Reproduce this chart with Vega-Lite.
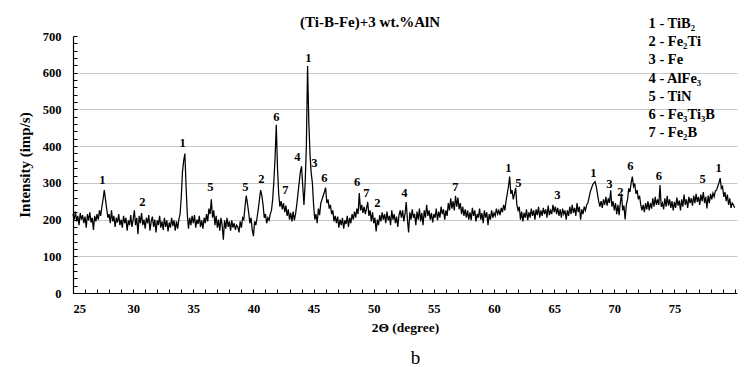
{
"$schema":"https://vega.github.io/schema/vega-lite/v6.json",
"width":664,"height":257,
"autosize":{"type":"none"},
"padding":{"left":73,"top":36,"right":10,"bottom":74},
"background":"white",
"title":{"text":"(Ti-B-Fe)+3 wt.%AlN","anchor":"middle","frame":"group","dx":-35,"dy":17,"offset":4,"font":"Liberation Serif","fontSize":15,"fontWeight":"bold","color":"black"},
"config":{"view":{"stroke":null},"font":"Liberation Serif",
"axis":{"labelFont":"Liberation Serif","titleFont":"Liberation Serif","labelFontWeight":"bold","titleFontWeight":"bold","labelColor":"black","titleColor":"black","domainColor":"black","tickColor":"black"}},
"datasets":{
"xrd":[
{"t":25.0,"i":215},{"t":25.1,"i":200},{"t":25.2,"i":222},{"t":25.3,"i":195},{"t":25.4,"i":210},{"t":25.5,"i":185},{"t":25.6,"i":218},{"t":25.7,"i":200},{"t":25.8,"i":212},{"t":25.9,"i":190},
{"t":26.0,"i":208},{"t":26.1,"i":178},{"t":26.2,"i":215},{"t":26.3,"i":198},{"t":26.4,"i":220},{"t":26.5,"i":192},{"t":26.6,"i":205},{"t":26.7,"i":172},{"t":26.8,"i":210},{"t":26.9,"i":195},
{"t":27.0,"i":215},{"t":27.1,"i":200},{"t":27.2,"i":225},{"t":27.3,"i":210},{"t":27.4,"i":235},{"t":27.5,"i":255},{"t":27.6,"i":280},{"t":27.7,"i":255},{"t":27.8,"i":230},{"t":27.9,"i":205},
{"t":28.0,"i":215},{"t":28.1,"i":190},{"t":28.2,"i":225},{"t":28.3,"i":195},{"t":28.4,"i":210},{"t":28.5,"i":180},{"t":28.6,"i":205},{"t":28.7,"i":192},{"t":28.8,"i":215},{"t":28.9,"i":185},
{"t":29.0,"i":200},{"t":29.1,"i":178},{"t":29.2,"i":210},{"t":29.3,"i":190},{"t":29.4,"i":205},{"t":29.5,"i":170},{"t":29.6,"i":198},{"t":29.7,"i":185},{"t":29.8,"i":212},{"t":29.9,"i":180},
{"t":30.0,"i":200},{"t":30.1,"i":225},{"t":30.2,"i":185},{"t":30.3,"i":205},{"t":30.4,"i":160},{"t":30.5,"i":210},{"t":30.6,"i":190},{"t":30.7,"i":218},{"t":30.8,"i":185},{"t":30.9,"i":200},
{"t":31.0,"i":175},{"t":31.1,"i":205},{"t":31.2,"i":190},{"t":31.3,"i":212},{"t":31.4,"i":170},{"t":31.5,"i":195},{"t":31.6,"i":208},{"t":31.7,"i":180},{"t":31.8,"i":200},{"t":31.9,"i":165},
{"t":32.0,"i":198},{"t":32.1,"i":185},{"t":32.2,"i":210},{"t":32.3,"i":178},{"t":32.4,"i":195},{"t":32.5,"i":172},{"t":32.6,"i":205},{"t":32.7,"i":180},{"t":32.8,"i":198},{"t":32.9,"i":168},
{"t":33.0,"i":192},{"t":33.1,"i":178},{"t":33.2,"i":205},{"t":33.3,"i":182},{"t":33.4,"i":198},{"t":33.5,"i":170},{"t":33.6,"i":195},{"t":33.7,"i":175},{"t":33.8,"i":200},{"t":33.9,"i":215},
{"t":34.0,"i":260},{"t":34.1,"i":330},{"t":34.2,"i":360},{"t":34.3,"i":380},{"t":34.4,"i":290},{"t":34.5,"i":215},{"t":34.6,"i":175},{"t":34.7,"i":205},{"t":34.8,"i":185},{"t":34.9,"i":210},
{"t":35.0,"i":190},{"t":35.1,"i":212},{"t":35.2,"i":178},{"t":35.3,"i":200},{"t":35.4,"i":188},{"t":35.5,"i":210},{"t":35.6,"i":180},{"t":35.7,"i":198},{"t":35.8,"i":175},{"t":35.9,"i":205},
{"t":36.0,"i":190},{"t":36.1,"i":215},{"t":36.2,"i":195},{"t":36.3,"i":230},{"t":36.4,"i":215},{"t":36.5,"i":255},{"t":36.6,"i":205},{"t":36.7,"i":225},{"t":36.8,"i":185},{"t":36.9,"i":210},
{"t":37.0,"i":178},{"t":37.1,"i":200},{"t":37.2,"i":170},{"t":37.3,"i":205},{"t":37.4,"i":185},{"t":37.5,"i":145},{"t":37.6,"i":198},{"t":37.7,"i":175},{"t":37.8,"i":205},{"t":37.9,"i":180},
{"t":38.0,"i":195},{"t":38.1,"i":170},{"t":38.2,"i":198},{"t":38.3,"i":178},{"t":38.4,"i":190},{"t":38.5,"i":172},{"t":38.6,"i":185},{"t":38.7,"i":180},{"t":38.8,"i":165},{"t":38.9,"i":195},
{"t":39.0,"i":178},{"t":39.1,"i":205},{"t":39.2,"i":200},{"t":39.3,"i":235},{"t":39.4,"i":265},{"t":39.5,"i":245},{"t":39.6,"i":220},{"t":39.7,"i":190},{"t":39.8,"i":205},{"t":39.9,"i":172},
{"t":40.0,"i":155},{"t":40.1,"i":195},{"t":40.2,"i":185},{"t":40.3,"i":205},{"t":40.4,"i":228},{"t":40.5,"i":255},{"t":40.6,"i":280},{"t":40.7,"i":265},{"t":40.8,"i":240},{"t":40.9,"i":205},
{"t":41.0,"i":215},{"t":41.1,"i":190},{"t":41.2,"i":205},{"t":41.3,"i":198},{"t":41.4,"i":215},{"t":41.5,"i":225},{"t":41.6,"i":255},{"t":41.7,"i":305},{"t":41.8,"i":370},{"t":41.9,"i":458},
{"t":42.0,"i":340},{"t":42.1,"i":270},{"t":42.2,"i":235},{"t":42.3,"i":250},{"t":42.4,"i":228},{"t":42.5,"i":245},{"t":42.6,"i":220},{"t":42.7,"i":238},{"t":42.8,"i":210},{"t":42.9,"i":228},
{"t":43.0,"i":200},{"t":43.1,"i":218},{"t":43.2,"i":195},{"t":43.3,"i":222},{"t":43.4,"i":198},{"t":43.5,"i":215},{"t":43.6,"i":240},{"t":43.7,"i":270},{"t":43.8,"i":300},{"t":43.9,"i":330},
{"t":44.0,"i":345},{"t":44.1,"i":290},{"t":44.2,"i":240},{"t":44.3,"i":300},{"t":44.4,"i":400},{"t":44.5,"i":618},{"t":44.6,"i":470},{"t":44.7,"i":380},{"t":44.8,"i":328},{"t":44.9,"i":300},
{"t":45.0,"i":240},{"t":45.1,"i":200},{"t":45.2,"i":215},{"t":45.3,"i":190},{"t":45.4,"i":230},{"t":45.5,"i":212},{"t":45.6,"i":245},{"t":45.7,"i":255},{"t":45.8,"i":265},{"t":45.9,"i":275},
{"t":46.0,"i":287},{"t":46.1,"i":245},{"t":46.2,"i":255},{"t":46.3,"i":230},{"t":46.4,"i":240},{"t":46.5,"i":215},{"t":46.6,"i":225},{"t":46.7,"i":195},{"t":46.8,"i":210},{"t":46.9,"i":190},
{"t":47.0,"i":208},{"t":47.1,"i":178},{"t":47.2,"i":200},{"t":47.3,"i":185},{"t":47.4,"i":205},{"t":47.5,"i":175},{"t":47.6,"i":198},{"t":47.7,"i":188},{"t":47.8,"i":210},{"t":47.9,"i":180},
{"t":48.0,"i":205},{"t":48.1,"i":190},{"t":48.2,"i":215},{"t":48.3,"i":200},{"t":48.4,"i":222},{"t":48.5,"i":205},{"t":48.6,"i":230},{"t":48.7,"i":215},{"t":48.8,"i":272},{"t":48.9,"i":225},
{"t":49.0,"i":240},{"t":49.1,"i":218},{"t":49.2,"i":235},{"t":49.3,"i":215},{"t":49.4,"i":230},{"t":49.5,"i":248},{"t":49.6,"i":210},{"t":49.7,"i":225},{"t":49.8,"i":195},{"t":49.9,"i":220},
{"t":50.0,"i":190},{"t":50.1,"i":205},{"t":50.2,"i":168},{"t":50.3,"i":200},{"t":50.4,"i":185},{"t":50.5,"i":212},{"t":50.6,"i":195},{"t":50.7,"i":220},{"t":50.8,"i":200},{"t":50.9,"i":215},
{"t":51.0,"i":190},{"t":51.1,"i":222},{"t":51.2,"i":198},{"t":51.3,"i":210},{"t":51.4,"i":185},{"t":51.5,"i":225},{"t":51.6,"i":200},{"t":51.7,"i":215},{"t":51.8,"i":190},{"t":51.9,"i":208},
{"t":52.0,"i":180},{"t":52.1,"i":212},{"t":52.2,"i":225},{"t":52.3,"i":205},{"t":52.4,"i":225},{"t":52.5,"i":195},{"t":52.6,"i":215},{"t":52.7,"i":248},{"t":52.8,"i":200},{"t":52.9,"i":165},
{"t":53.0,"i":220},{"t":53.1,"i":200},{"t":53.2,"i":228},{"t":53.3,"i":205},{"t":53.4,"i":215},{"t":53.5,"i":185},{"t":53.6,"i":222},{"t":53.7,"i":200},{"t":53.8,"i":230},{"t":53.9,"i":195},
{"t":54.0,"i":218},{"t":54.1,"i":185},{"t":54.2,"i":225},{"t":54.3,"i":205},{"t":54.4,"i":240},{"t":54.5,"i":210},{"t":54.6,"i":225},{"t":54.7,"i":200},{"t":54.8,"i":218},{"t":54.9,"i":192},
{"t":55.0,"i":215},{"t":55.1,"i":205},{"t":55.2,"i":230},{"t":55.3,"i":198},{"t":55.4,"i":222},{"t":55.5,"i":205},{"t":55.6,"i":235},{"t":55.7,"i":215},{"t":55.8,"i":228},{"t":55.9,"i":200},
{"t":56.0,"i":225},{"t":56.1,"i":210},{"t":56.2,"i":245},{"t":56.3,"i":225},{"t":56.4,"i":258},{"t":56.5,"i":230},{"t":56.6,"i":250},{"t":56.7,"i":225},{"t":56.8,"i":265},{"t":56.9,"i":235},
{"t":57.0,"i":260},{"t":57.1,"i":228},{"t":57.2,"i":245},{"t":57.3,"i":215},{"t":57.4,"i":235},{"t":57.5,"i":210},{"t":57.6,"i":228},{"t":57.7,"i":205},{"t":57.8,"i":225},{"t":57.9,"i":200},
{"t":58.0,"i":220},{"t":58.1,"i":198},{"t":58.2,"i":232},{"t":58.3,"i":210},{"t":58.4,"i":225},{"t":58.5,"i":195},{"t":58.6,"i":215},{"t":58.7,"i":205},{"t":58.8,"i":230},{"t":58.9,"i":200},
{"t":59.0,"i":218},{"t":59.1,"i":190},{"t":59.2,"i":225},{"t":59.3,"i":205},{"t":59.4,"i":220},{"t":59.5,"i":185},{"t":59.6,"i":215},{"t":59.7,"i":200},{"t":59.8,"i":225},{"t":59.9,"i":205},
{"t":60.0,"i":218},{"t":60.1,"i":210},{"t":60.2,"i":230},{"t":60.3,"i":215},{"t":60.4,"i":225},{"t":60.5,"i":212},{"t":60.6,"i":232},{"t":60.7,"i":220},{"t":60.8,"i":240},{"t":60.9,"i":225},
{"t":61.0,"i":250},{"t":61.1,"i":270},{"t":61.2,"i":290},{"t":61.3,"i":317},{"t":61.4,"i":270},{"t":61.5,"i":280},{"t":61.6,"i":255},{"t":61.7,"i":270},{"t":61.8,"i":286},{"t":61.9,"i":240},
{"t":62.0,"i":225},{"t":62.1,"i":235},{"t":62.2,"i":200},{"t":62.3,"i":222},{"t":62.4,"i":195},{"t":62.5,"i":218},{"t":62.6,"i":205},{"t":62.7,"i":228},{"t":62.8,"i":198},{"t":62.9,"i":220},
{"t":63.0,"i":205},{"t":63.1,"i":230},{"t":63.2,"i":210},{"t":63.3,"i":225},{"t":63.4,"i":200},{"t":63.5,"i":228},{"t":63.6,"i":212},{"t":63.7,"i":235},{"t":63.8,"i":205},{"t":63.9,"i":225},
{"t":64.0,"i":210},{"t":64.1,"i":232},{"t":64.2,"i":215},{"t":64.3,"i":228},{"t":64.4,"i":205},{"t":64.5,"i":238},{"t":64.6,"i":212},{"t":64.7,"i":225},{"t":64.8,"i":215},{"t":64.9,"i":240},
{"t":65.0,"i":220},{"t":65.1,"i":235},{"t":65.2,"i":215},{"t":65.3,"i":232},{"t":65.4,"i":210},{"t":65.5,"i":228},{"t":65.6,"i":205},{"t":65.7,"i":230},{"t":65.8,"i":215},{"t":65.9,"i":225},
{"t":66.0,"i":200},{"t":66.1,"i":225},{"t":66.2,"i":210},{"t":66.3,"i":235},{"t":66.4,"i":215},{"t":66.5,"i":240},{"t":66.6,"i":218},{"t":66.7,"i":232},{"t":66.8,"i":210},{"t":66.9,"i":245},
{"t":67.0,"i":220},{"t":67.1,"i":235},{"t":67.2,"i":200},{"t":67.3,"i":228},{"t":67.4,"i":215},{"t":67.5,"i":235},{"t":67.6,"i":225},{"t":67.7,"i":240},{"t":67.8,"i":245},{"t":67.9,"i":260},
{"t":68.0,"i":275},{"t":68.1,"i":285},{"t":68.2,"i":295},{"t":68.3,"i":300},{"t":68.4,"i":303},{"t":68.5,"i":290},{"t":68.6,"i":270},{"t":68.7,"i":250},{"t":68.8,"i":235},{"t":68.9,"i":250},
{"t":69.0,"i":232},{"t":69.1,"i":255},{"t":69.2,"i":240},{"t":69.3,"i":262},{"t":69.4,"i":238},{"t":69.5,"i":258},{"t":69.6,"i":245},{"t":69.7,"i":280},{"t":69.8,"i":235},{"t":69.9,"i":250},
{"t":70.0,"i":225},{"t":70.1,"i":245},{"t":70.2,"i":215},{"t":70.3,"i":240},{"t":70.4,"i":212},{"t":70.5,"i":245},{"t":70.6,"i":270},{"t":70.7,"i":225},{"t":70.8,"i":238},{"t":70.9,"i":200},
{"t":71.0,"i":240},{"t":71.1,"i":255},{"t":71.2,"i":285},{"t":71.3,"i":275},{"t":71.4,"i":300},{"t":71.5,"i":317},{"t":71.6,"i":290},{"t":71.7,"i":298},{"t":71.8,"i":270},{"t":71.9,"i":280},
{"t":72.0,"i":255},{"t":72.1,"i":265},{"t":72.2,"i":240},{"t":72.3,"i":225},{"t":72.4,"i":240},{"t":72.5,"i":220},{"t":72.6,"i":245},{"t":72.7,"i":228},{"t":72.8,"i":250},{"t":72.9,"i":225},
{"t":73.0,"i":245},{"t":73.1,"i":230},{"t":73.2,"i":258},{"t":73.3,"i":235},{"t":73.4,"i":262},{"t":73.5,"i":240},{"t":73.6,"i":255},{"t":73.7,"i":240},{"t":73.8,"i":294},{"t":73.9,"i":235},
{"t":74.0,"i":245},{"t":74.1,"i":228},{"t":74.2,"i":258},{"t":74.3,"i":235},{"t":74.4,"i":265},{"t":74.5,"i":238},{"t":74.6,"i":255},{"t":74.7,"i":232},{"t":74.8,"i":250},{"t":74.9,"i":225},
{"t":75.0,"i":248},{"t":75.1,"i":232},{"t":75.2,"i":260},{"t":75.3,"i":238},{"t":75.4,"i":252},{"t":75.5,"i":225},{"t":75.6,"i":255},{"t":75.7,"i":235},{"t":75.8,"i":268},{"t":75.9,"i":240},
{"t":76.0,"i":255},{"t":76.1,"i":232},{"t":76.2,"i":262},{"t":76.3,"i":245},{"t":76.4,"i":258},{"t":76.5,"i":238},{"t":76.6,"i":265},{"t":76.7,"i":245},{"t":76.8,"i":270},{"t":76.9,"i":248},
{"t":77.0,"i":262},{"t":77.1,"i":240},{"t":77.2,"i":268},{"t":77.3,"i":250},{"t":77.4,"i":275},{"t":77.5,"i":245},{"t":77.6,"i":262},{"t":77.7,"i":230},{"t":77.8,"i":265},{"t":77.9,"i":245},
{"t":78.0,"i":270},{"t":78.1,"i":255},{"t":78.2,"i":272},{"t":78.3,"i":262},{"t":78.4,"i":278},{"t":78.5,"i":280},{"t":78.6,"i":290},{"t":78.7,"i":300},{"t":78.8,"i":313},{"t":78.9,"i":285},
{"t":79.0,"i":290},{"t":79.1,"i":262},{"t":79.2,"i":275},{"t":79.3,"i":250},{"t":79.4,"i":268},{"t":79.5,"i":240},{"t":79.6,"i":258},{"t":79.7,"i":232},{"t":79.8,"i":245},{"t":79.9,"i":240},
{"t":80.0,"i":232}
],
"peaks":[
{"t":27.44,"i":308,"n":"1"},{"t":30.76,"i":248,"n":"2"},{"t":34.12,"i":408,"n":"1"},{"t":36.41,"i":289,"n":"5"},
{"t":39.32,"i":289,"n":"5"},{"t":40.65,"i":311,"n":"2"},{"t":41.9,"i":480,"n":"6"},{"t":42.65,"i":281,"n":"7"},
{"t":43.65,"i":371,"n":"4"},{"t":44.56,"i":641,"n":"1"},{"t":45.06,"i":355,"n":"3"},{"t":45.89,"i":314,"n":"6"},
{"t":48.63,"i":303,"n":"6"},{"t":49.38,"i":273,"n":"7"},{"t":50.3,"i":245,"n":"2"},{"t":52.54,"i":273,"n":"4"},
{"t":56.78,"i":289,"n":"7"},{"t":61.19,"i":341,"n":"1"},{"t":62.02,"i":300,"n":"5"},{"t":65.26,"i":267,"n":"3"},
{"t":68.25,"i":327,"n":"1"},{"t":69.58,"i":297,"n":"3"},{"t":70.5,"i":275,"n":"2"},{"t":71.33,"i":346,"n":"6"},
{"t":73.7,"i":319,"n":"6"},{"t":77.35,"i":311,"n":"5"},{"t":78.68,"i":341,"n":"1"}
],
"phases":[
{"phase":"1 - TiB₂"},{"phase":"2 - Fe₂Ti"},{"phase":"3 - Fe"},{"phase":"4 - AlFe₃"},{"phase":"5 - TiN"},{"phase":"6 - Fe₃Ti₃B"},{"phase":"7 - Fe₂B"}
]
},
"resolve":{"axis":{"x":"independent","y":"independent"}},
"layer":[
{"data":{"name":"xrd"},
 "mark":{"type":"line","color":"black","strokeWidth":1.25,"interpolate":"linear"},
 "encoding":{
  "x":{"field":"t","type":"quantitative","scale":{"domain":[25,80.2],"nice":false,"zero":false},
   "axis":{"orient":"bottom","values":[25,30,35,40,45,50,55,60,65,70,75],"ticks":false,"grid":false,"domain":true,"domainWidth":1.2,"labelFontSize":12.5,"labelPadding":9,"title":"2Θ (degree)","titleFontSize":13.5,"titlePadding":6}},
  "y":{"field":"i","type":"quantitative","scale":{"domain":[0,700],"nice":false},
   "axis":{"orient":"left","values":[0,100,200,300,400,500,600,700],"ticks":false,"grid":true,"gridColor":"#c8c8c8","gridWidth":1,
    "gridOpacity":{"condition":{"test":"datum.value === 700 || datum.value === 0","value":0},"value":1},
    "domain":true,"domainWidth":1.2,"labelFontSize":12.5,"labelPadding":12,"title":"Intensity (imp/s)","titleFontSize":15,"titlePadding":10}}
 }},
{"data":{"name":"peaks"},
 "mark":{"type":"text","font":"Liberation Serif","fontWeight":"bold","fontSize":12.5,"color":"black","baseline":"middle","align":"center"},
 "encoding":{
  "x":{"field":"t","type":"quantitative",
   "axis":{"orient":"bottom","values":[25,26,27,28,29,30,31,32,33,34,35,36,37,38,39,40,41,42,43,44,45,46,47,48,49,50,51,52,53,54,55,56,57,58,59,60,61,62,63,64,65,66,67,68,69,70,71,72,73,74,75,76,77,78,79,80],
    "labels":false,"domain":false,"grid":false,"ticks":true,"tickSize":-4,"tickWidth":1,
    "title":"b","titleFontWeight":"normal","titleFontSize":19,"titlePadding":55,"titleX":342}},
  "y":{"field":"i","type":"quantitative",
   "axis":{"orient":"left","values":[0,20,40,60,80,100,120,140,160,180,200,220,240,260,280,300,320,340,360,380,400,420,440,460,480,500,520,540,560,580,600,620,640,660,680,700],
    "labels":false,"domain":false,"grid":false,"ticks":true,"tickSize":-4,"tickWidth":1,"title":null}},
  "text":{"field":"n"}
 }},
{"data":{"name":"phases"},
 "mark":{"type":"point","opacity":0},
 "encoding":{
  "shape":{"field":"phase","type":"nominal",
   "legend":{"title":null,"orient":"none","legendX":561,"legendY":-19,"labelFont":"Liberation Serif","labelFontWeight":"bold","labelFontSize":14.5,"labelColor":"black","symbolSize":0,"symbolOpacity":0,"symbolStrokeWidth":0,"labelOffset":0,"rowPadding":3.1,"padding":0}}
 }}
]
}
